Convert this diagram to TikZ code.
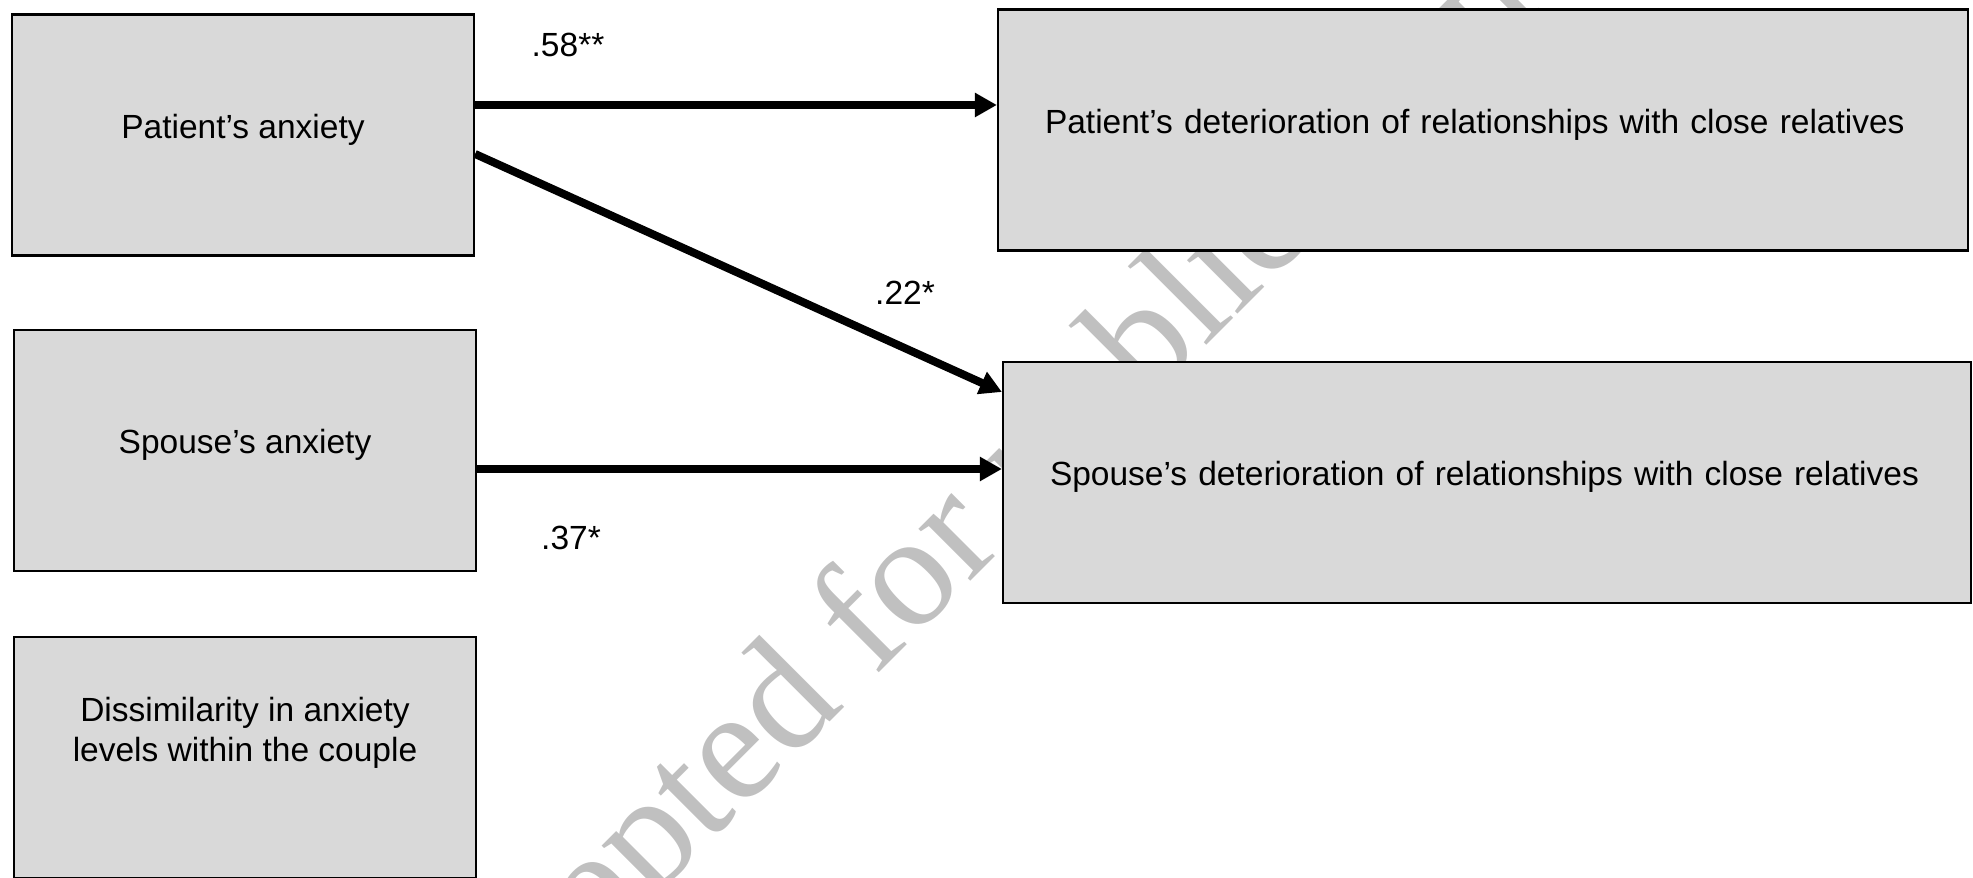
\documentclass[tikz,border=0pt]{standalone}
\usepackage{fontspec}
\setmainfont{Liberation Sans}
\newfontfamily\wmfont{Liberation Serif}
\usetikzlibrary{arrows.meta}
\definecolor{boxgray}{RGB}{217,217,217}
\definecolor{wmgray}{RGB}{192,192,192}

\begin{document}
\begin{tikzpicture}[x = 1pt, y = 1pt,
  box/.style = {draw, line width = 1.1pt, fill = boxgray, minimum height = 120.5pt,
    inner sep = 0pt, font = \fontsize{16.75}{20}\selectfont, text height = 12pt, text depth = 8.5pt},
  link/.style = {-{Triangle[length = 11pt, width = 11.5pt]}, line width = 4pt},
  coef/.style = {font = \fontsize{16.75}{20}\selectfont}]

  \useasboundingbox (0, 0) rectangle (986.5, 438.5);

  %%watermark
  \node[wmgray, font = \wmfont\fontsize{80}{96}\selectfont, rotate = 45, anchor = base] (wm) at (490.5, 153) {Accepted for publication};

  %%anxiety
  \node[box, minimum width = 231pt] (pa) at (121.5, 371) {Patient’s anxiety};
  \node[box, minimum width = 231pt] (sa) at (122.5, 213.25) {Spouse’s anxiety};
  \node[box, minimum width = 231pt, align = center, text depth = 7.5pt] (da) at (122.5, 59.75)
    {Dissimilarity in anxiety\\levels within the couple};

  %%deterioration
  \node[box, inner xsep = 23.5pt, text width = 438pt, align = left] (pd) at (741.5, 373.5)
    {Patient’s deterioration of relationships with close relatives};
  \node[box, inner xsep = 23.5pt, text width = 437pt, align = left] (sd) at (743.5, 197.25)
    {Spouse’s deterioration of relationships with close relatives};

  %%paths
  \draw[link] ([yshift = 15pt]pa.east) to ([yshift = 15pt]pa.east -| pd.west);
  \draw[link] ([yshift = -9.5pt]pa.east) to ([yshift = 45.25pt]sd.west);
  \draw[link] ([yshift = -9.25pt]sa.east) to ([yshift = -9.25pt]sa.east -| sd.west);

  \node[coef] (c1) at (284, 416) {.58**};
  \node[coef] (c2) at (452.5, 292) {.22*};
  \node[coef] (c3) at (285.5, 169.5) {.37*};

\end{tikzpicture}
\end{document}
